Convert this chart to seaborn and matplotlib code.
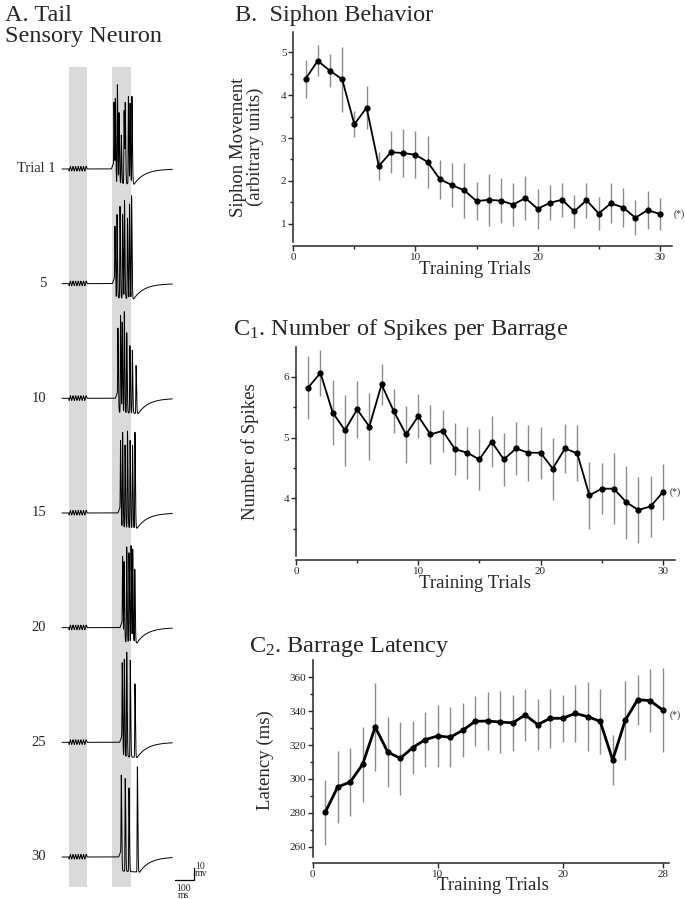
import numpy as np
import pandas as pd
import seaborn as sns
import matplotlib.pyplot as plt

# data
trials = list(range(1, 31))
siphon_mean = [4.38, 4.80, 4.57, 4.37, 3.32, 3.71, 2.35, 2.67, 2.65, 2.61, 2.44, 2.04, 1.90, 1.78, 1.53,
               1.56, 1.54, 1.45, 1.60, 1.35, 1.49, 1.56, 1.29, 1.55, 1.24, 1.48, 1.38, 1.14, 1.32, 1.23]
siphon_sem = [0.44, 0.36, 0.39, 0.76, 0.30, 0.50, 0.33, 0.49, 0.56, 0.55, 0.60, 0.45, 0.51, 0.65, 0.44,
              0.61, 0.52, 0.51, 0.52, 0.46, 0.41, 0.40, 0.39, 0.41, 0.38, 0.47, 0.45, 0.41, 0.45, 0.38]

spikes_mean = [5.82, 6.06, 5.41, 5.12, 5.46, 5.18, 5.87, 5.43, 5.05, 5.35, 5.05, 5.11, 4.81, 4.75, 4.64,
               4.93, 4.64, 4.82, 4.75, 4.75, 4.49, 4.82, 4.74, 4.05, 4.16, 4.16, 3.94, 3.81, 3.87, 4.10]
spikes_sem = [0.52, 0.38, 0.53, 0.58, 0.47, 0.55, 0.33, 0.36, 0.47, 0.36, 0.49, 0.34, 0.43, 0.43, 0.50,
              0.42, 0.43, 0.44, 0.46, 0.43, 0.51, 0.40, 0.46, 0.55, 0.42, 0.58, 0.60, 0.54, 0.50, 0.46]

latency_trials = list(range(1, 29))
latency_mean = [280.3, 295.3, 298.2, 308.7, 330.7, 315.9, 312.2, 318.5, 323.2, 325.4, 324.6, 328.7, 334.0, 334.2,
                333.6, 333.1, 337.8, 332.1, 335.8, 335.8, 338.7, 336.8, 334.0, 311.2, 334.6, 346.8, 346.2, 340.7]
latency_sem = [19.2, 21.0, 20.0, 22.0, 25.8, 20.5, 21.6, 15.6, 16.4, 18.5, 17.7, 16.0, 14.8, 17.3,
               18.4, 16.4, 15.2, 15.0, 17.3, 13.7, 16.7, 20.4, 19.3, 15.0, 23.2, 14.8, 18.5, 24.5]

# panel A: example traces, spike times (ms) and peak heights (mV above rest)
trial_labels = ['Trial 1', '5', '10', '15', '20', '25', '30']
trial_offsets = [0, -98, -196, -294, -392, -490, -588]
spike_times = [
    [278, 285, 296, 305, 317, 332, 338, 355, 364, 374],
    [283, 294, 310, 324, 334, 350, 361, 372],
    [299, 313, 322, 333, 346, 363, 376, 396],
    [313, 324, 337, 350, 364, 377, 390],
    [324, 332, 346, 358, 369, 378, 389],
    [322, 333, 346, 365, 390],
    [317, 338, 358, 403],
]
spike_heights = [
    [57, 59, 72, 48, 29, 50, 53, 62, 56, 62],
    [49, 59, 66, 59, 71, 56, 68, 75],
    [60, 71, 65, 74, 56, 45, 41, 28],
    [62, 69, 58, 70, 62, 58, 69],
    [61, 56, 69, 64, 70, 67, 50],
    [68, 71, 77, 70, 50],
    [70, 67, 59, 77],
]
stim_pulses = [45, 59, 73, 87, 101, 115, 129]
shock_windows = [(35, 136), (267, 369)]

sns.set_theme(style='ticks')
plt.rcParams['font.family'] = ['Liberation Serif', 'DejaVu Serif']
plt.rcParams['mathtext.fontset'] = 'custom'
plt.rcParams['mathtext.rm'] = 'Liberation Serif'
plt.rcParams['mathtext.it'] = 'Liberation Serif:italic'
plt.rcParams['axes.linewidth'] = 1.1

W, H = 685, 899
fig = plt.figure(figsize=(W / 100, H / 100), dpi=100)


def frac(left, top, right, bottom):
    return [left / W, 1 - bottom / H, (right - left) / W, (bottom - top) / H]


def make_trace(t, times, heights):
    # stimulus artifact
    vx = [stim_pulses[0] - 8]
    vy = [0]
    for p in stim_pulses:
        vx += [p - 7, p]
        vy += [-1.8, 2.2]
    vx += [stim_pulses[-1] + 6]
    vy += [0]
    v = np.interp(t, vx, vy, left=0, right=0)
    t0, t1 = times[0], times[-1]
    floor = np.interp(t, [t0 - 14, t0 - 2, t0 + 5, t1 + 12], [0, 5, -12, -13], left=0)
    tail = t > t1 + 12
    floor[tail] = -13 * np.exp(-(t[tail] - t1 - 12) / 55)
    v = v + floor
    for ts, h in zip(times, heights):
        amp = h - np.interp(ts, t, floor)
        s = t - ts
        k = np.where(s < 0, np.exp(-(s / 1.6) ** 2), np.exp(-(s / 3.6) ** 2))
        v = v + amp * k
    return v


# ---- panel A
axA = fig.add_axes([0, 0, 230 / W, 1])
axA.set_xlim(-331.6, 898.4)
axA.set_ylim(-623.9, 144.4)
axA.axis('off')
for a, b in shock_windows:
    axA.fill_between([a, b], -613.7, 87.2, color='#dadada', lw=0, zorder=0)
t = np.arange(0, 590, 0.2)
for lab, off, tt, hh in zip(trial_labels, trial_offsets, spike_times, spike_heights):
    axA.plot(t, make_trace(t, tt, hh) + off, color='black', lw=0.7, zorder=2)
    xr = -32 if lab.startswith('Trial') else -85
    axA.text(xr, off, lab, ha='right', va='center', fontsize=10.5)
# scale bar
axA.plot([606, 706, 706], [-607.7, -607.7, -597.7], color='black', lw=0.9)
axA.text(712, -599, '10\nmv', fontsize=7, va='center', ha='left', linespacing=0.75)
axA.text(650, -611, '100\nms', fontsize=7, va='top', ha='center', linespacing=0.75)

fig.text(5 / W, 1 - 5 / H, 'A. Tail\nSensory Neuron', fontsize=17.5, va='top', ha='left', linespacing=1.0)


def panel(rect, x, mean, sem, lw, xlim, ylim, ybound):
    ax = fig.add_axes(rect)
    df = pd.DataFrame({'trial': x, 'mean': mean})
    lo = np.array(mean) - np.array(sem)
    hi = np.array(mean) + np.array(sem)
    ax.vlines(x, lo, hi, color='#8c8c8c', lw=1.0, zorder=1)
    sns.lineplot(data=df, x='trial', y='mean', ax=ax, color='black', lw=lw, marker='o',
                 markersize=4.5, markeredgecolor='black', markeredgewidth=0, zorder=3)
    ax.set_xlim(*xlim)
    ax.set_ylim(*ylim)
    sns.despine(ax=ax)
    ax.spines['left'].set_bounds(ybound, ylim[1])
    ax.set_xlabel('')
    ax.set_ylabel('')
    ax.tick_params(which='major', length=3.5, width=1.0, labelsize=8, pad=1.5)
    ax.tick_params(which='minor', length=2.5, width=1.0)
    ax.set_facecolor('none')
    return ax


TITLE = 17.5
LAB = 13.5

# ---- panel B
axB = panel(frac(293.3, 31.7, 672, 245.7), trials, siphon_mean, siphon_sem, 1.3, (0, 31), (0.49, 5.48), 0.58)
axB.set_xticks([0, 10, 20, 30])
axB.set_xticks([5, 15, 25], minor=True)
axB.set_yticks([1, 2, 3, 4, 5])
axB.set_yticks([1.5, 2.5, 3.5, 4.5], minor=True)
fig.text(235 / W, 1 - 21 / H, 'B.  Siphon Behavior', fontsize=TITLE, va='baseline')
fig.text(247 / W, 1 - 147 / H, 'Siphon Movement\n(arbitrary units)', rotation=90, fontsize=LAB,
         ha='center', va='center', linespacing=1.05)
fig.text(475 / W, 1 - 274 / H, 'Training Trials', fontsize=LAB, ha='center', va='baseline')
fig.text(674 / W, 1 - 214 / H, '(*)', fontsize=7, va='center')

# ---- panel C1
axC1 = panel(frac(296, 346.7, 675, 560), trials, spikes_mean, spikes_sem, 1.3, (0, 31), (2.99, 6.49), 3.05)
axC1.set_xticks([0, 10, 20, 30])
axC1.set_xticks([5, 15, 25], minor=True)
axC1.set_yticks([4, 5, 6])
axC1.set_yticks([3.5, 4.5, 5.5], minor=True)
fig.text(232.7 / W, 1 - 335 / H, r'C$_1$. Number of Spikes per Barrage', fontsize=TITLE, va='baseline')
fig.text(250 / W, 1 - 452 / H, 'Number of Spikes', rotation=90, fontsize=LAB, ha='center', va='center')
fig.text(475 / W, 1 - 588 / H, 'Training Trials', fontsize=LAB, ha='center', va='baseline')
fig.text(670 / W, 1 - 492 / H, '(*)', fontsize=7, va='center')

# ---- panel C2
axC2 = panel(frac(312.7, 660, 669.3, 862.7), latency_trials, latency_mean, latency_sem, 2.0, (0, 28.53),
             (250.6, 370.2), 253.9)
axC2.set_xticks([0, 10, 20, 28])
axC2.set_yticks([260, 280, 300, 320, 340, 360])
axC2.set_yticks([270, 290, 310, 330, 350], minor=True)
fig.text(249.3 / W, 1 - 651.7 / H, r'C$_2$. Barrage Latency', fontsize=TITLE, va='baseline')
fig.text(265 / W, 1 - 760 / H, 'Latency (ms)', rotation=90, fontsize=LAB, ha='center', va='center')
fig.text(493 / W, 1 - 890 / H, 'Training Trials', fontsize=LAB, ha='center', va='baseline')
fig.text(670 / W, 1 - 715 / H, '(*)', fontsize=7, va='center')

fig.savefig('out.png', dpi=100)
